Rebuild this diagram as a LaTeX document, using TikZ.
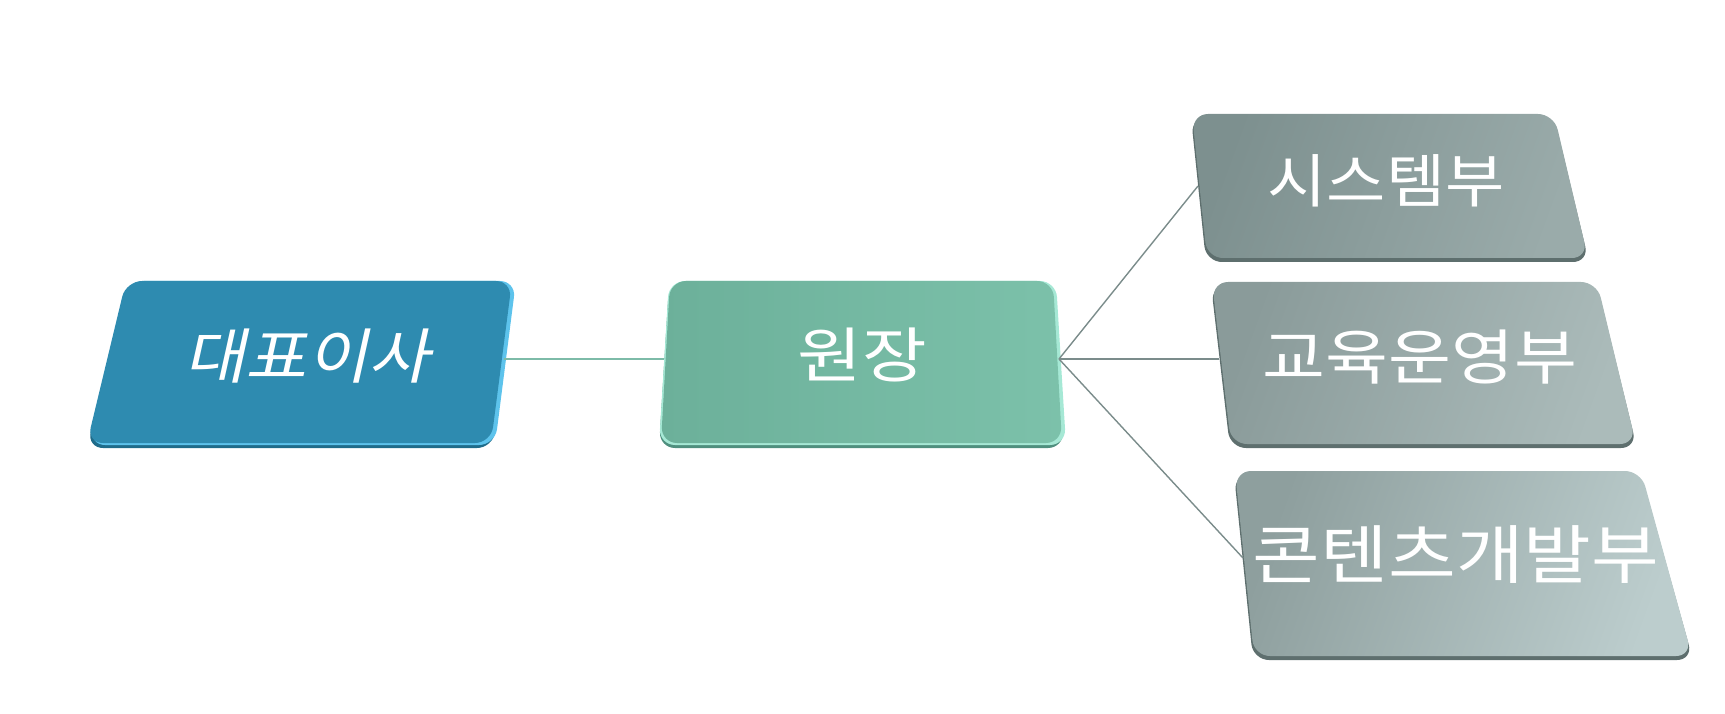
\documentclass[tikz,border=0pt]{standalone}
\usepackage{fontspec}
\newfontfamily\kr{Noto Sans CJK KR}
\newfontfamily\krit[FakeSlant=0.2]{Noto Sans CJK KR}
\definecolor{bA}{HTML}{2E8BB0}
\definecolor{bAedge}{HTML}{5DC3EC}
\definecolor{bAshadow}{HTML}{1F6C8A}
\definecolor{bBl}{HTML}{6CB09A}
\definecolor{bBr}{HTML}{7CC1AA}
\definecolor{bBedge}{HTML}{A6E8D5}
\definecolor{bBshadow}{HTML}{4F8F7E}
\definecolor{gshadow}{HTML}{5E6F6E}
\definecolor{gAl}{HTML}{7D908F}
\definecolor{gAr}{HTML}{9AABAA}
\definecolor{gBl}{HTML}{8A9B9A}
\definecolor{gBr}{HTML}{ABBBBA}
\definecolor{gCl}{HTML}{8E9F9E}
\definecolor{gCr}{HTML}{BCCDCD}
\definecolor{lineA}{HTML}{7DBBA8}
\definecolor{lineB}{HTML}{7B8C8B}
\tikzset{
  boxcorner/.style={rounded corners=16pt},
  label/.style={text=white, inner sep=0pt, anchor=center, transform shape},
  conn/.style={line width=1.4pt}
}
\begin{document}
\begin{tikzpicture}[x=1pt,y=-1pt]
\useasboundingbox (0,0) rectangle (1725,714);
% box 1
\fill[bAshadow, boxcorner] (126,284) -- (514,284) -- (493,448) -- (87,448) -- cycle;
\fill[bAedge, boxcorner] (128,281) -- (516,281) -- (495,445) -- (89,445) -- cycle;
\fill[bA, boxcorner] (126,281) -- (512,281) -- (491,443) -- (87,443) -- cycle;
% box 2
\fill[bBshadow, boxcorner] (669,284) -- (1054,284) -- (1064,448) -- (659,448) -- cycle;
\fill[bBedge, boxcorner] (669,281) -- (1056,281) -- (1066,445) -- (659,445) -- cycle;
\shade[left color=bBl, right color=bBr, boxcorner] (670,281) -- (1053,281) -- (1062,443) -- (661,443) -- cycle;
% box 3
\fill[gshadow, boxcorner] (1191,117) -- (1554,117) -- (1589,262) -- (1206,262) -- cycle;
\shade[left color=gAl, right color=gAr, shading angle=70, boxcorner] (1192,114) -- (1554,114) -- (1588,258) -- (1207,258) -- cycle;
% box 4
\fill[gshadow, boxcorner] (1211,285) -- (1597,285) -- (1637,448) -- (1230,448) -- cycle;
\shade[left color=gBl, right color=gBr, shading angle=70, boxcorner] (1212,282) -- (1597,282) -- (1636,444) -- (1231,444) -- cycle;
% box 5
\fill[gshadow, boxcorner] (1234,474) -- (1641,474) -- (1693,660) -- (1253,660) -- cycle;
\shade[left color=gCl, right color=gCr, shading angle=70, boxcorner] (1235,471) -- (1641,471) -- (1692,656) -- (1254,656) -- cycle;
% connector end points
\coordinate (c1r) at (504,359);
\coordinate (c2l) at (664,359);
\coordinate (c2r) at (1059,359);
\coordinate (c3l) at (1198,186);
\coordinate (c4l) at (1219,359);
\coordinate (c5l) at (1243,558);
\draw[conn, lineA] (c1r) -- (c2l);
\draw[conn, lineB] (c2r) -- (c3l);
\draw[conn, lineB] (c2r) -- (c4l);
\draw[conn, lineB] (c2r) -- (c5l);
% labels
\node[label, xscale=1.11, font=\krit\fontsize{60}{60}\selectfont] (t1) at (307,356) {대표이사};
\node[label, xscale=1.17, font=\kr\fontsize{60}{60}\selectfont] (t2) at (862,355) {원장};
\node[label, xscale=1.11, font=\kr\fontsize{58}{58}\selectfont] (t3) at (1386,181) {시스템부};
\node[label, xscale=1.14, font=\kr\fontsize{60}{60}\selectfont] (t4) at (1420,357) {교육운영부};
\node[label, xscale=1.15, font=\kr\fontsize{64}{64}\selectfont] (t5) at (1456,555) {콘텐츠개발부};
\end{tikzpicture}
\end{document}
